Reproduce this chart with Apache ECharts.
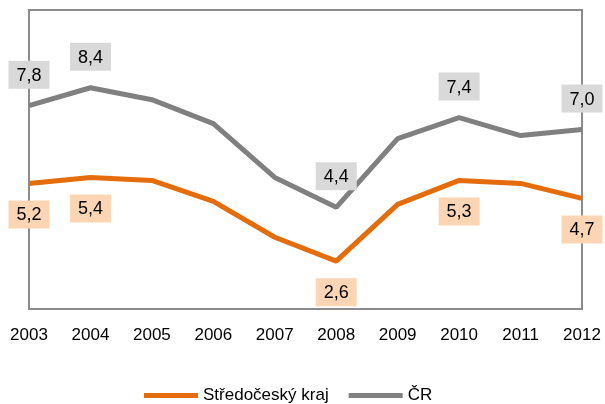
<!DOCTYPE html>
<html>
<head>
  <meta charset="utf-8">
  <title>Středočeský kraj vs ČR</title>
  <script src="https://cdn.jsdelivr.net/npm/echarts@6/dist/echarts.min.js"></script>
  <style>
    html, body { margin: 0; padding: 0; background: #fff; }
    #chart { width: 605px; height: 404px; }
  </style>
</head>
<body>
  <div id="chart"></div>
  <script>
    const years = ['2003', '2004', '2005', '2006', '2007', '2008', '2009', '2010', '2011', '2012'];
    const stredocesky = [5.2, 5.4, 5.3, 4.6, 3.4, 2.6, 4.5, 5.3, 5.2, 4.7];
    const cr = [7.8, 8.4, 8.0, 7.2, 5.4, 4.4, 6.7, 7.4, 6.8, 7.0];
    // only these points carry a value label
    const labelled = ['2003', '2004', '2008', '2010', '2012'];

    const fmt = v => v.toFixed(1).replace('.', ',');

    function withLabels(values, bg, pos) {
      return values.map((v, i) => {
        if (labelled.indexOf(years[i]) < 0) return v;
        return {
          value: v,
          label: {
            show: true,
            position: pos,
            distance: 17,
            formatter: p => fmt(p.value),
            backgroundColor: bg,
            padding: [6, 8, 4, 8],
            color: '#000',
            fontSize: 18,
            fontFamily: 'Liberation Sans, Arial, sans-serif'
          }
        };
      });
    }

    const chart = echarts.init(document.getElementById('chart'));
    chart.setOption({
      animation: false,
      textStyle: { fontFamily: 'Liberation Sans, Arial, sans-serif' },
      grid: {
        left: 29, right: 23, top: 10, bottom: 95,
        show: true, borderColor: '#8c8c8c', borderWidth: 2
      },
      xAxis: {
        type: 'category',
        data: years,
        boundaryGap: false,
        axisLine: { show: false },
        axisTick: { show: false },
        axisLabel: { color: '#000', fontSize: 17, margin: 18 }
      },
      yAxis: {
        type: 'value',
        min: 1, max: 11,
        axisLine: { show: false },
        axisTick: { show: false },
        axisLabel: { show: false },
        splitLine: { show: false }
      },
      legend: {
        top: 382,
        left: 139,
        itemWidth: 54,
        itemHeight: 5,
        itemGap: 20,
        textStyle: { color: '#000', fontSize: 17 },
        data: [
          { name: 'Středočeský kraj', icon: 'rect' },
          { name: 'ČR', icon: 'rect' }
        ]
      },
      series: [
        {
          name: 'Středočeský kraj',
          type: 'line',
          data: withLabels(stredocesky, '#fcd5b4', 'bottom'),
          symbol: 'circle',
          symbolSize: 0.1,
          showAllSymbol: true,
          color: '#e46c0a',
          lineStyle: { width: 5, color: '#e46c0a' }
        },
        {
          name: 'ČR',
          type: 'line',
          data: withLabels(cr, '#d9d9d9', 'top'),
          symbol: 'circle',
          symbolSize: 0.1,
          showAllSymbol: true,
          color: '#808080',
          lineStyle: { width: 5, color: '#808080' }
        }
      ]
    });
  </script>
</body>
</html>
